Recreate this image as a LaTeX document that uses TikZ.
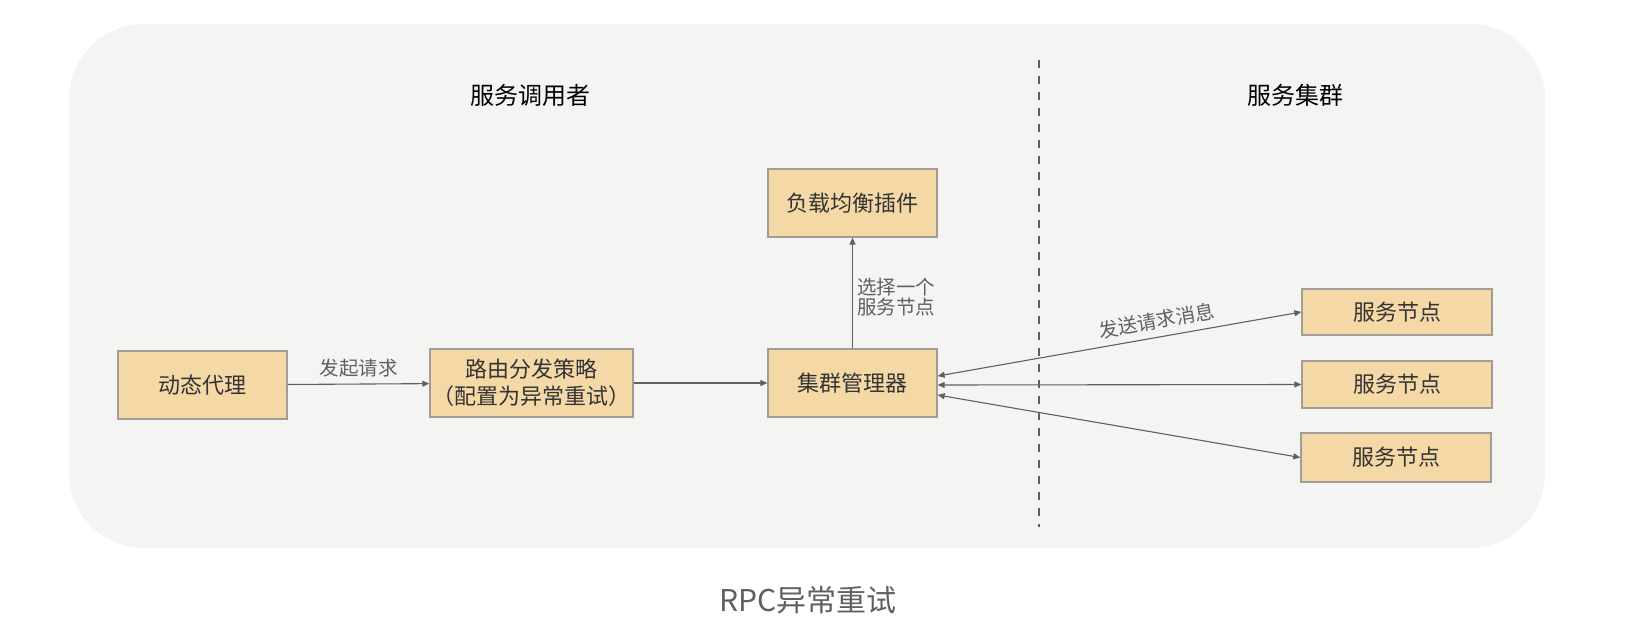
\documentclass[tikz,border=0pt]{standalone}
\usepackage{fontspec}
\setmainfont{Noto Sans CJK SC}
\usetikzlibrary{arrows.meta}

\definecolor{bgcolor}{HTML}{F4F4F2}
\definecolor{boxfill}{HTML}{F4D9A7}
\definecolor{boxline}{HTML}{A09C96}
\definecolor{linecolor}{HTML}{606060}
\definecolor{txtcolor}{HTML}{333333}

\begin{document}
\begin{tikzpicture}[x=1pt, y=-1pt,
    box/.style={draw=boxline, line width=1.3pt, fill=boxfill, text=txtcolor,
                font=\fontsize{22}{27}\selectfont, align=center, inner sep=0pt},
    arr/.style={draw=linecolor, line width=1.1pt, -{Triangle[length=7pt,width=6pt]}},
    twoarr/.style={draw=linecolor, line width=1.1pt, {Triangle[length=7pt,width=6pt]}-{Triangle[length=7pt,width=6pt]}},
    lbl/.style={text=linecolor, font=\fontsize{19.5}{20}\selectfont, align=left}]

    % 画布大小
    \useasboundingbox (0,0) rectangle (1642,635);

    % 背景
    \fill[bgcolor, rounded corners=75pt] (69,24) rectangle (1545,548);

    % 分隔线
    \draw[linecolor, line width=1.1pt, dash pattern=on 8pt off 8pt] (1039,60) -- (1039,527);

    % 标题
    \node[text=black, font=\fontsize{24}{28}\selectfont] (caller) at (530,95) {服务调用者};
    \node[text=black, font=\fontsize{24}{28}\selectfont] (cluster) at (1295,95) {服务集群};
    \node[text=linecolor, font=\fontsize{30}{34}\selectfont] (title) at (808,600) {RPC异常重试};

    % 方框
    \node[box, minimum width=169pt, minimum height=68pt] (proxy) at (202.5,385) {动态代理};
    \node[box, minimum width=203pt, minimum height=68pt] (router) at (531.5,383) {路由分发策略\\（配置为异常重试）};
    \node[box, minimum width=169pt, minimum height=68pt] (balancer) at (852.5,203) {负载均衡插件};
    \node[box, minimum width=169pt, minimum height=68pt] (manager) at (852.5,383) {集群管理器};
    \node[box, minimum width=190pt, minimum height=46pt] (nodeA) at (1397,312) {服务节点};
    \node[box, minimum width=190pt, minimum height=47pt] (nodeB) at (1397,384.5) {服务节点};
    \node[box, minimum width=190pt, minimum height=49pt] (nodeC) at (1396,457.5) {服务节点};

    % 连线
    \draw[arr] (proxy) -- node[lbl, above, inner sep=6pt] {发起请求} (router);
    \draw[arr] (router) -- (manager);
    \draw[arr] (manager) -- node[lbl, right, pos=0.46, inner sep=4pt] {选择一个\\服务节点} (balancer);
    \draw[twoarr] ([yshift=7pt]manager.east) -- node[lbl, sloped, above, pos=0.61, inner sep=7pt] {发送请求消息} (nodeA.west);
    \draw[twoarr] ([yshift=-2pt]manager.east) -- (nodeB.west);
    \draw[twoarr] ([yshift=-12pt]manager.east) -- (nodeC.west);

\end{tikzpicture}
\end{document}
